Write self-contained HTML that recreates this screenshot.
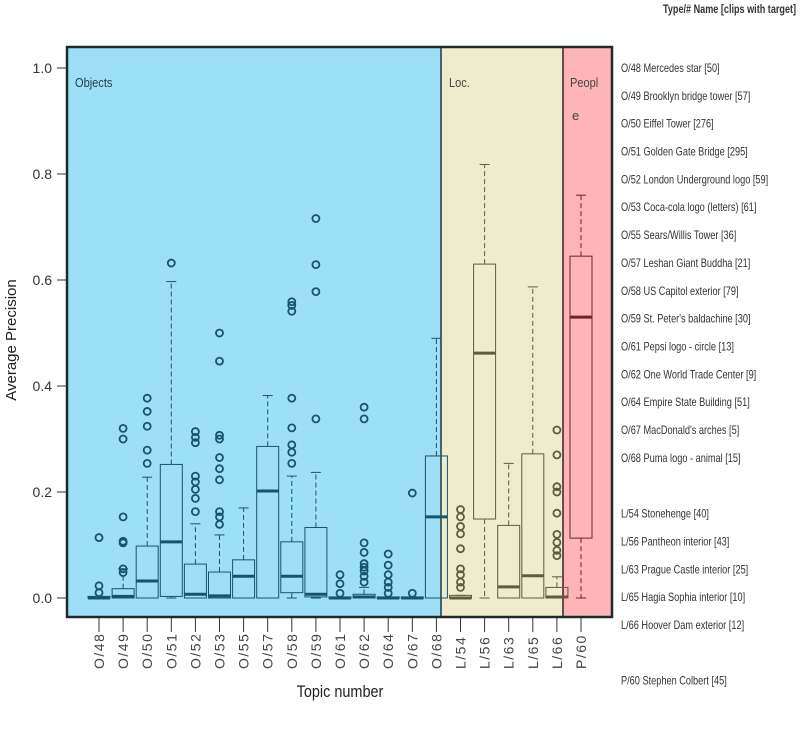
<!DOCTYPE html>
<html><head><meta charset="utf-8"><style>
body{margin:0;background:#fff;width:800px;height:732px;overflow:hidden;font-family:"Liberation Sans",sans-serif}
svg{display:block}
</style></head><body>
<svg id="chart" width="800" height="732" viewBox="0 0 800 732" font-family="Liberation Sans, sans-serif">
<rect x="67" y="47" width="374" height="570" fill="#9ddff6"/>
<rect x="441" y="47" width="122" height="570" fill="#eeeccd"/>
<rect x="563" y="47" width="49" height="570" fill="#ffb4b6"/>
<line x1="441" y1="47" x2="441" y2="617" stroke="#1c3a44" stroke-width="1.5"/>
<rect x="563" y="47" width="49" height="570" fill="none" stroke="#3a2222" stroke-width="1.5"/>
<rect x="67" y="47" width="545" height="570" fill="none" stroke="#1e2a2e" stroke-width="2.5"/>
<text x="75" y="87" font-size="13" fill="#1d4050" transform="translate(75 0) scale(0.85 1) translate(-75 0)">Objects</text>
<text x="449" y="87" font-size="13" fill="#444" transform="translate(449 0) scale(0.85 1) translate(-449 0)">Loc.</text>
<text x="570" y="87" font-size="13" fill="#444" transform="translate(570 0) scale(0.85 1) translate(-570 0)">Peopl</text>
<text x="572" y="120" font-size="13" fill="#444">e</text>
<g id="axes"></g>
<g id="boxes"></g>
<text x="663" y="13" font-size="11.5" font-weight="bold" fill="#333" transform="translate(663 0) scale(0.79 1) translate(-663 0)">Type/# Name [clips with target]</text>
<g id="legend"></g>
<text transform="translate(16 340) rotate(-90)" text-anchor="middle" font-size="15" fill="#222">Average Precision</text>
<text x="340" y="697" text-anchor="middle" font-size="17" fill="#222" transform="translate(340 0) scale(0.85 1) translate(-340 0)">Topic number</text>
</svg>
<script>
const categories=["O/48","O/49","O/50","O/51","O/52","O/53","O/55","O/57","O/58","O/59","O/61","O/62","O/64","O/67","O/68","L/54","L/56","L/63","L/65","L/66","P/60"];
const groups=["O","O","O","O","O","O","O","O","O","O","O","O","O","O","O","L","L","L","L","L","P"];
const whiskerLow=[0,0,0,0,0,0,0,0,0,0,0,0,0,0,0,0,0,0,0,0,0];
const q1=[0,0,0,0.003,0,0,0,0,0.01,0.002,0,0,0,0,0,0,0.149,0,0,0,0.113];
const medians=[0,0.003,0.032,0.106,0.007,0.004,0.041,0.202,0.041,0.007,0,0.002,0,0,0.153,0,0.462,0.021,0.042,0.002,0.53];
const q3=[0.003,0.0175,0.098,0.252,0.064,0.049,0.072,0.286,0.106,0.133,0.002,0.007,0.002,0.002,0.268,0.005,0.63,0.137,0.272,0.02,0.645];
const whiskerHigh=[0.003,0.055,0.228,0.597,0.14,0.119,0.17,0.382,0.23,0.237,0.002,0.02,0.002,0.002,0.49,0.005,0.818,0.254,0.587,0.04,0.76];
const outliers=[[0.114,0.023,0.01],[0.32,0.30,0.153,0.107,0.104,0.055,0.048],[0.377,0.352,0.324,0.279,0.254],[0.632],[0.314,0.303,0.293,0.23,0.219,0.205,0.188,0.163],[0.5,0.447,0.307,0.3,0.265,0.244,0.223,0.163,0.153,0.139],[],[],[0.559,0.552,0.541,0.377,0.321,0.289,0.275,0.254],[0.716,0.629,0.578,0.338],[0.044,0.027,0.009],[0.36,0.338,0.104,0.086,0.065,0.058,0.051,0.041,0.03],[0.083,0.062,0.044,0.03,0.02,0.009],[0.198,0.009],[],[0.167,0.153,0.135,0.121,0.093,0.055,0.044,0.03,0.02],[],[],[],[0.317,0.27,0.21,0.2,0.16,0.12,0.105,0.09,0.08],[]];
const yTicks=[0,0.2,0.4,0.6,0.8,1.0];
const yTickLabels=["0.0","0.2","0.4","0.6","0.8","1.0"];
const legendLabels=["O/48 Mercedes star [50]","O/49 Brooklyn bridge tower [57]","O/50 Eiffel Tower [276]","O/51 Golden Gate Bridge [295]","O/52 London Underground logo [59]","O/53 Coca-cola logo (letters)  [61]","O/55 Sears/Willis Tower [36]","O/57 Leshan Giant Buddha [21]","O/58 US Capitol exterior [79]","O/59 St. Peter's baldachine [30]","O/61 Pepsi logo - circle [13]","O/62 One World Trade Center [9]","O/64 Empire State Building [51]","O/67 MacDonald's arches [5]","O/68 Puma logo - animal [15]","","L/54  Stonehenge [40]","L/56  Pantheon interior [43]","L/63  Prague Castle interior [25]","L/65  Hagia Sophia interior  [10]","L/66  Hoover Dam exterior [12]","","P/60  Stephen Colbert [45]"];

const NS="http://www.w3.org/2000/svg";
function y(v){return 598-v*530;}
function x(i){return 99+i*24.1;}
function mk(tag,attrs,parent){const e=document.createElementNS(NS,tag);for(const k in attrs)e.setAttribute(k,attrs[k]);parent.appendChild(e);return e;}
const colors={O:"#17546c",L:"#5e5c3a",P:"#6e2424"};
const axes=document.getElementById('axes');
const boxes=document.getElementById('boxes');
const legend=document.getElementById('legend');
yTicks.forEach((t,i)=>{
  const l=mk('line',{x1:57,x2:66,y1:y(t),y2:y(t),stroke:'#333','stroke-width':1},axes);
  
  
  const tx=mk('text',{x:52,y:y(t)+5,'text-anchor':'end','font-size':14,fill:'#333'},axes);
  
  
  tx.textContent=yTickLabels[i];
});
categories.forEach((c,i)=>{
  const cx=x(i),col=colors[groups[i]];
  const g=mk('g',{},boxes);
  
  
  mk('line',{x1:cx,x2:cx,y1:y(q3[i]),y2:y(whiskerHigh[i]),stroke:col,'stroke-dasharray':'5,3','stroke-width':1},g);
  mk('line',{x1:cx,x2:cx,y1:y(q1[i]),y2:y(whiskerLow[i]),stroke:col,'stroke-dasharray':'5,3','stroke-width':1},g);
  mk('line',{x1:cx-5,x2:cx+5,y1:y(whiskerHigh[i]),y2:y(whiskerHigh[i]),stroke:col,'stroke-width':1},g);
  mk('line',{x1:cx-5,x2:cx+5,y1:y(whiskerLow[i]),y2:y(whiskerLow[i]),stroke:col,'stroke-width':1},g);
  const h=Math.max(y(q1[i])-y(q3[i]),1.5);
  mk('rect',{x:cx-11,y:y(q3[i]),width:22,height:h,fill:'none',stroke:col,'stroke-width':1},g);
  mk('line',{x1:cx-11,x2:cx+11,y1:y(medians[i]),y2:y(medians[i]),stroke:col,'stroke-width':3},g);
  outliers[i].forEach(v=>{
    const o=mk('circle',{cx:cx,cy:y(v),r:3.5,fill:'none',stroke:col,'stroke-width':1.8},g);
    
    
  });
  mk('line',{x1:cx,x2:cx,y1:618,y2:632,stroke:'#333','stroke-width':1},axes);
  const t=mk('text',{transform:'translate('+(cx+5)+' 669) rotate(-90)','font-size':14,fill:'#444','letter-spacing':'1.5'},axes);
  
  
  t.textContent=c;
});
legendLabels.forEach((s,i)=>{
  if(!s)return;
  const t=mk('text',{x:621,y:72+i*27.85,'font-size':11.5,fill:'#333',transform:'translate(621 0) scale(0.8 1) translate(-621 0)'},legend);
  
  
  t.textContent=s;
});
</script>
</body></html>
